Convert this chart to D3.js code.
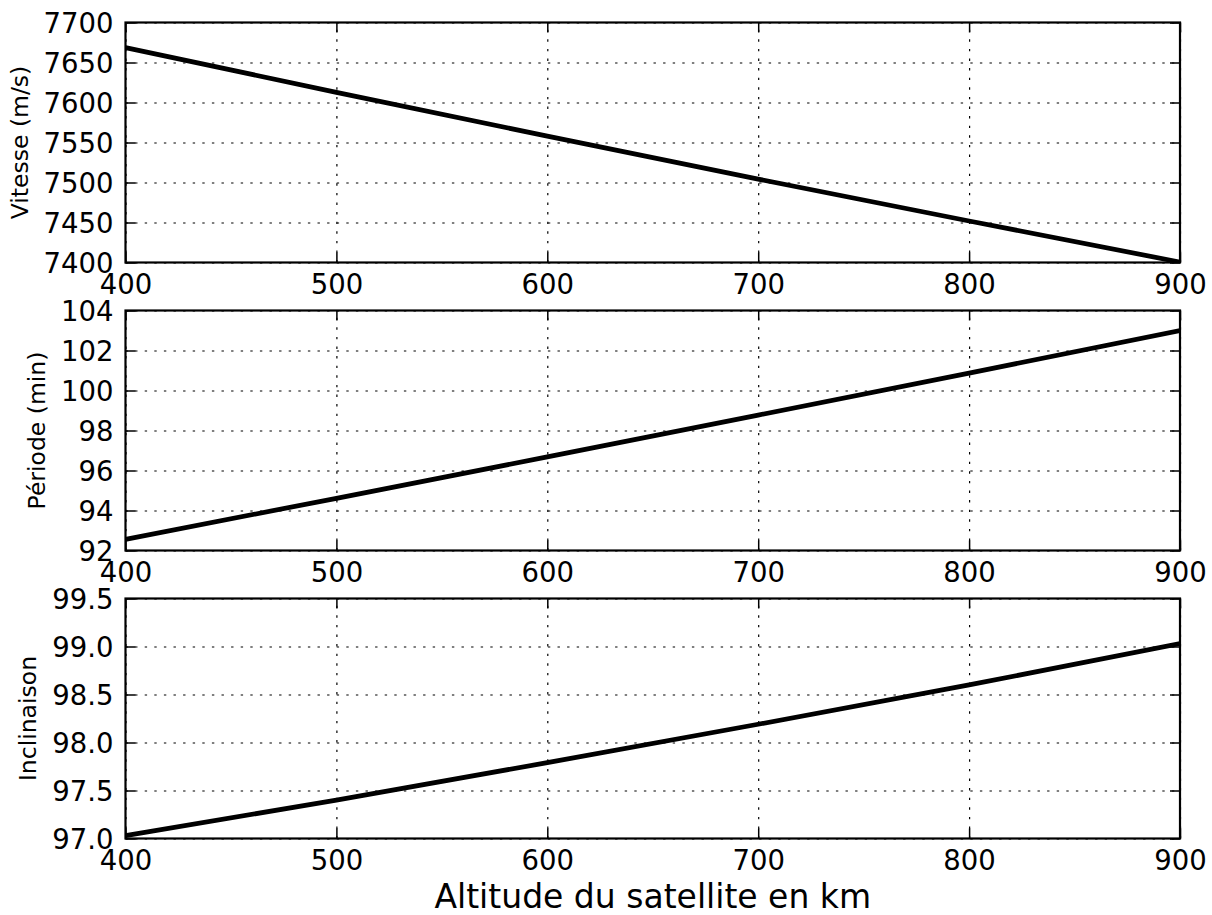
<!DOCTYPE html>
<html>
<head>
<meta charset="utf-8">
<script src="https://cdn.jsdelivr.net/npm/d3@7"></script>
<style>
  html, body { margin: 0; padding: 0; background: #fff; }
  svg { display: block; font-family: "DejaVu Sans", sans-serif; }
</style>
</head>
<body>
<svg id="chart" width="1212" height="915"></svg>
<script>
// Altitude of the satellite (km)
const altitudes = [400, 500, 600, 700, 800, 900];
// Orbital speed (m/s)
const vitesse = [7668.6, 7612.7, 7557.9, 7504.3, 7451.9, 7400.5];
// Orbital period (min)
const periode = [92.56, 94.61, 96.68, 98.77, 100.87, 102.99];
// Sun-synchronous inclination (deg)
const inclinaison = [97.03, 97.40, 97.79, 98.19, 98.60, 99.03];

const xTicks = [400, 500, 600, 700, 800, 900];
const vitesseTicks = [7400, 7450, 7500, 7550, 7600, 7650, 7700];
const periodeTicks = [92, 94, 96, 98, 100, 102, 104];
const inclinaisonTicks = [97.0, 97.5, 98.0, 98.5, 99.0, 99.5];

const panels = [
  { label: "Vitesse (m/s)", values: vitesse, domain: [7400, 7700], ticks: vitesseTicks, fmt: d3.format("d") },
  { label: "Période (min)", values: periode, domain: [92, 104], ticks: periodeTicks, fmt: d3.format("d") },
  { label: "Inclinaison", values: inclinaison, domain: [97, 99.5], ticks: inclinaisonTicks, fmt: d3.format(".1f") }
];

const svg = d3.select("#chart");
const left = 125.5, right = 1180;
const tops = [22.5, 310.5, 598.5];
const plotH = 240;
const tickFont = 27.5, labelFont = 23.5, xLabelFont = 33;
const tickLen = 10;

const x = d3.scaleLinear().domain([400, 900]).range([left, right]);

panels.forEach((p, i) => {
  const top = tops[i], bottom = top + plotH;
  const y = d3.scaleLinear().domain(p.domain).range([bottom, top]);
  const g = svg.append("g");

  // clip region for the data line
  const clipId = "clip" + i;
  svg.append("clipPath").attr("id", clipId)
    .append("rect").attr("x", left).attr("y", top).attr("width", right - left).attr("height", plotH);

  // dotted grid
  const gridStyle = sel => {
    sel.select(".domain").remove();
    sel.selectAll(".tick line").attr("stroke", "#000").attr("stroke-width", 1.2)
      .attr("stroke-dasharray", "2.4,7.2");
  };
  g.append("g").attr("transform", `translate(0,${bottom})`)
    .call(d3.axisBottom(x).tickValues(xTicks).tickSize(-plotH).tickFormat(""))
    .call(gridStyle);
  g.append("g").attr("transform", `translate(${left},0)`)
    .call(d3.axisLeft(y).tickValues(p.ticks).tickSize(-(right - left)).tickFormat(""))
    .call(gridStyle);

  // data line
  const line = d3.line().x((d, k) => x(altitudes[k])).y(d => y(d));
  g.append("path").datum(p.values)
    .attr("clip-path", `url(#${clipId})`)
    .attr("fill", "none").attr("stroke", "#000").attr("stroke-width", 4.75)
    .attr("stroke-linejoin", "round")
    .attr("d", line);

  // axes with inward ticks
  const styleAxis = sel => {
    sel.select(".domain").remove();
    sel.selectAll(".tick line").attr("stroke", "#000").attr("stroke-width", 1.5);
    sel.selectAll(".tick text").attr("fill", "#000").attr("font-size", tickFont)
      .attr("font-family", "DejaVu Sans, sans-serif");
  };
  const yAxisG = g.append("g").attr("transform", `translate(${left},0)`)
    .call(d3.axisLeft(y).tickValues(p.ticks).tickFormat(p.fmt).tickSize(-tickLen).tickPadding(12))
    .call(styleAxis)
    .call(s => s.selectAll(".tick text").attr("dy", "0.36em"));
  g.append("g").attr("transform", `translate(${right},0)`)
    .call(d3.axisRight(y).tickValues(p.ticks).tickFormat("").tickSize(-tickLen))
    .call(styleAxis);
  g.append("g").attr("transform", `translate(0,${bottom})`)
    .call(d3.axisBottom(x).tickValues(xTicks).tickFormat(d3.format("d")).tickSize(-tickLen).tickPadding(11.5))
    .call(styleAxis);
  g.append("g").attr("transform", `translate(0,${top})`)
    .call(d3.axisTop(x).tickValues(xTicks).tickFormat("").tickSize(-tickLen))
    .call(styleAxis);

  // frame
  g.append("rect").attr("x", left).attr("y", top).attr("width", right - left).attr("height", plotH)
    .attr("fill", "none").attr("stroke", "#000").attr("stroke-width", 2.2);

  // y label placed left of the widest tick label
  let minX = Infinity;
  yAxisG.selectAll(".tick text").each(function () {
    const bb = this.getBBox();
    minX = Math.min(minX, left + bb.x);
  });
  const labelX = (isFinite(minX) ? minX : left - 80) - 16;
  g.append("text")
    .attr("transform", `translate(${labelX},${(top + bottom) / 2}) rotate(-90)`)
    .attr("text-anchor", "middle")
    .attr("font-size", labelFont)
    .text(p.label);
});

svg.append("text")
  .attr("x", (left + right) / 2).attr("y", 908)
  .attr("text-anchor", "middle")
  .attr("font-size", xLabelFont)
  .text("Altitude du satellite en km");
</script>
</body>
</html>
